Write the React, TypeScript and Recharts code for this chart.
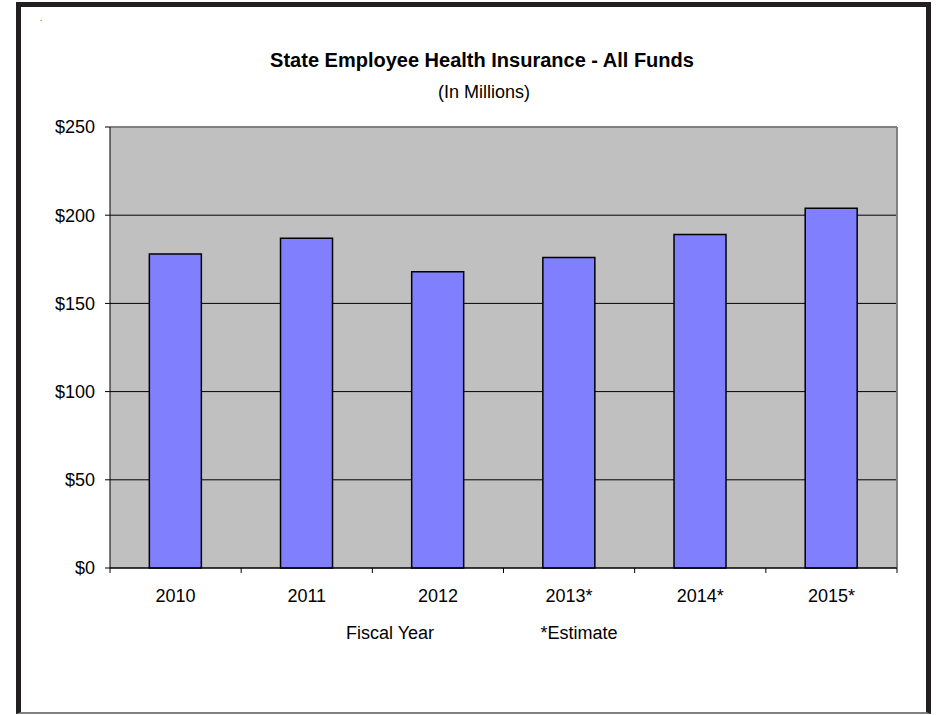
import React from "react";
import {
  BarChart,
  Bar,
  XAxis,
  YAxis,
  CartesianGrid,
  ReferenceLine,
} from "recharts";

const categories = ["2010", "2011", "2012", "2013*", "2014*", "2015*"];
const spending = [178, 187, 168, 176, 189, 204];
const yTicks = [0, 50, 100, 150, 200, 250];

const data = categories.map((c, i) => ({ year: c, value: spending[i] }));

const FONT = "'Liberation Sans', Arial, sans-serif";

const BoundaryTick = (props: any) => {
  const { x, y, payload, index, visibleTicksCount, width } = props;
  const half =
    payload && typeof payload.offset === "number" && payload.offset > 0
      ? payload.offset
      : width / visibleTicksCount / 2;
  const last = index === visibleTicksCount - 1;
  return (
    <g>
      <line x1={x - half} x2={x - half} y1={y} y2={y + 5} stroke="#000" strokeWidth={1} />
      {last && (
        <line x1={x + half} x2={x + half} y1={y} y2={y + 5} stroke="#000" strokeWidth={1} />
      )}
      <text
        x={x}
        y={y + 21}
        dy="0.71em"
        textAnchor="middle"
        fill="#000"
        fontSize={18}
        fontFamily={FONT}
      >
        {payload.value}
      </text>
    </g>
  );
};

const textStyle: React.CSSProperties = {
  position: "absolute",
  fontFamily: FONT,
  color: "#000",
  whiteSpace: "nowrap",
  transform: "translateX(-50%)",
  lineHeight: "24px",
};

export default function App() {
  return (
    <div
      style={{
        position: "absolute",
        left: 0,
        top: 0,
        width: 936,
        height: 715,
        background: "#fff",
        overflow: "hidden",
      }}
    >
      <div
        style={{
          position: "absolute",
          left: 16,
          top: 2,
          width: 915,
          height: 712,
          boxSizing: "border-box",
          borderTop: "5px solid #231f20",
          borderLeft: "5px solid #231f20",
          borderRight: "5px solid #231f20",
          borderBottom: "2px solid #808080",
        }}
      />
      <div style={{ position: "absolute", left: 40, top: 14, fontSize: 8, fontFamily: FONT }}>.</div>
      <div style={{ ...textStyle, left: 482, top: 48, fontSize: 20, fontWeight: "bold" }}>
        State Employee Health Insurance - All Funds
      </div>
      <div style={{ ...textStyle, left: 484, top: 80, fontSize: 18 }}>(In Millions)</div>
      <div style={{ ...textStyle, left: 390, top: 621, fontSize: 18 }}>Fiscal Year</div>
      <div style={{ ...textStyle, left: 579, top: 621, fontSize: 18 }}>*Estimate</div>
      <div style={{ position: "absolute", left: 0, top: 0 }}>
        <BarChart
          width={936}
          height={715}
          data={data}
          margin={{ top: 127, right: 39, bottom: 107, left: 50 }}
          barCategoryGap="30%"
        >
          <CartesianGrid
            vertical={false}
            stroke="#000"
            strokeWidth={1}
            fill="#c0c0c0"
            fillOpacity={1}
          />
          <XAxis
            dataKey="year"
            interval={0}
            height={40}
            axisLine={{ stroke: "#000", strokeWidth: 1 }}
            tickLine={false}
            tickSize={0}
            tickMargin={0}
            tick={<BoundaryTick />}
          />
          <YAxis
            domain={[0, 250]}
            ticks={yTicks}
            interval={0}
            width={60}
            tickFormatter={(v: number) => `$${v}`}
            tickSize={5}
            tickMargin={10}
            tickLine={{ stroke: "#000", strokeWidth: 1 }}
            axisLine={{ stroke: "#000", strokeWidth: 1 }}
            tick={{ fill: "#000", fontSize: 18, fontFamily: FONT }}
          />
          <ReferenceLine y={250} stroke="#808080" strokeWidth={2} />
          <ReferenceLine x="2015*" position="end" stroke="#808080" strokeWidth={2} />
          <Bar
            dataKey="value"
            fill="#8080ff"
            stroke="#000"
            strokeWidth={1.5}
            isAnimationActive={false}
          />
        </BarChart>
      </div>
    </div>
  );
}
